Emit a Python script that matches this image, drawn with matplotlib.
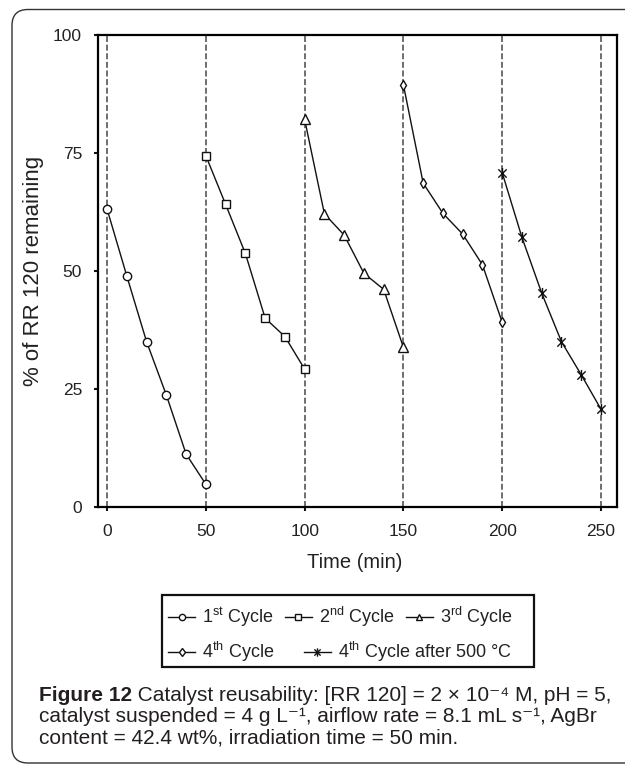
import matplotlib
matplotlib.use("Agg")
import matplotlib.pyplot as plt
from matplotlib.lines import Line2D
from matplotlib.path import Path
from matplotlib.patches import FancyBboxPatch, Rectangle

plt.rcParams['mathtext.fontset'] = 'custom'
plt.rcParams['mathtext.rm'] = 'Liberation Sans'
plt.rcParams['lines.scale_dashes'] = False

sans = ['Liberation Sans', 'DejaVu Sans']

# data
time1 = [0, 10, 20, 30, 40, 50]
time2 = [50, 60, 70, 80, 90, 100]
time3 = [100, 110, 120, 130, 140, 150]
time4 = [150, 160, 170, 180, 190, 200]
time5 = [200, 210, 220, 230, 240, 250]
cycle1 = [63.1, 48.9, 35.0, 23.7, 11.2, 4.8]
cycle2 = [74.4, 64.1, 53.7, 40.0, 36.1, 29.2]
cycle3 = [82.1, 62.1, 57.6, 49.5, 46.1, 33.8]
cycle4 = [89.4, 68.6, 62.2, 57.8, 51.3, 39.1]
cycle5 = [70.8, 57.1, 45.3, 35.0, 28.0, 20.7]
cycle_ends = [0, 50, 100, 150, 200, 250]
xticks = [0, 50, 100, 150, 200, 250]
yticks = [0, 25, 50, 75, 100]
labels = ['1$^{\\mathrm{st}}$ Cycle', '2$^{\\mathrm{nd}}$ Cycle', '3$^{\\mathrm{rd}}$ Cycle',
          '4$^{\\mathrm{th}}$ Cycle', '4$^{\\mathrm{th}}$ Cycle after 500 \u00b0C']
caption = [' Catalyst reusability: [RR 120] = 2 \u00d7 10\u207b\u2074 M, pH = 5,',
           'catalyst suspended = 4 g L\u207b\u00b9, airflow rate = 8.1 mL s\u207b\u00b9, AgBr',
           'content = 42.4 wt%, irradiation time = 50 min.']

# asterisk marker: vertical bar plus an X
star = Path([(0, -1), (0, 1), (-0.75, -0.75), (0.75, 0.75), (-0.75, 0.75), (0.75, -0.75)],
            [Path.MOVETO, Path.LINETO, Path.MOVETO, Path.LINETO, Path.MOVETO, Path.LINETO])

fig = plt.figure(figsize=(6.25, 7.65), dpi=100)

box = FancyBboxPatch((0.12, 0.02), 7.5, 7.535, boxstyle='round,pad=0,rounding_size=0.16',
                     transform=fig.dpi_scale_trans, fill=False, edgecolor='#333333', lw=1.0)
fig.patches.append(box)

ax = fig.add_axes([0.1568, 0.3373, 0.8304, 0.617])

for x in cycle_ends:
    ax.axvline(x, color='#555555', lw=1.2, linestyle=(0, (4.3, 1.9)), zorder=1)

styles = [('o', 6), ('s', 6), ('^', 6.5), ('d', 5.5), (star, 8)]
series = [(time1, cycle1), (time2, cycle2), (time3, cycle3), (time4, cycle4), (time5, cycle5)]
for (t, v), (m, ms) in zip(series, styles):
    ax.plot(t, v, color='#111111', lw=1.0, marker=m, ms=ms, mfc='white', mec='#111111', mew=1.0, zorder=3)

ax.set_xlim(-4.6, 258.1)
ax.set_ylim(0, 100)
ax.set_xticks(xticks)
ax.set_yticks(yticks)
for s in ax.spines.values():
    s.set_linewidth(1.6)
ax.tick_params(direction='out', length=3, width=1.5, pad=8.5, labelsize=12.5, colors='#111111')
ax.tick_params(axis='x', pad=9.5)
for lab in ax.get_xticklabels() + ax.get_yticklabels():
    lab.set_family(sans)
    lab.set_color('#222222')

ax.set_xlabel('Time (min)', family=sans, fontsize=14.5, color='#222222', va='top')
ax.xaxis.set_label_coords(0.495, -0.098)
ax.set_ylabel('% of RR 120 remaining', family=sans, fontsize=16, color='#222222')
ax.yaxis.set_label_coords(-0.105, 0.5)

# legend: two rows drawn as two frameless legends inside one frame
handles = [Line2D([], [], color='#111111', lw=1.0, marker=m, ms=4.5 if m is not star else 6,
                  mfc='white', mec='#111111', mew=1.0) for m, ms in styles]
fig.patches.append(Rectangle((0.2592, 0.1281), 0.5952, 0.0941, transform=fig.transFigure,
                             fill=False, edgecolor='#111111', lw=1.6))
leg1 = fig.legend(handles[:3], labels[:3], ncol=3, loc='center left', bbox_to_anchor=(0.2688, 0.1935),
                  frameon=False, borderpad=0, borderaxespad=0, handlelength=1.5, handletextpad=0.4,
                  columnspacing=0.6, prop={'family': sans, 'size': 13})
leg2 = fig.legend(handles[3:], labels[3:], ncol=2, loc='center left', bbox_to_anchor=(0.2688, 0.1477),
                  frameon=False, borderpad=0, borderaxespad=0, handlelength=1.5, handletextpad=0.4,
                  columnspacing=1.6, prop={'family': sans, 'size': 13})
for lg in (leg1, leg2):
    for t in lg.get_texts():
        t.set_color('#222222')

# caption
cap_color = '#231f20'
cap_size = 15
renderer = fig.canvas.get_renderer()
head = fig.text(39 / 625, 1 - 701 / 765, 'Figure 12', family=sans, weight='bold',
                fontsize=cap_size, color=cap_color, va='baseline')
ext = head.get_window_extent(renderer)
fig.text(ext.x1 / fig.bbox.width, 1 - 701 / 765, caption[0],
         family=sans, fontsize=cap_size, color=cap_color, va='baseline')
fig.text(39 / 625, 1 - 722.5 / 765, caption[1],
         family=sans, fontsize=cap_size, color=cap_color, va='baseline')
fig.text(39 / 625, 1 - 744 / 765, caption[2],
         family=sans, fontsize=cap_size, color=cap_color, va='baseline')

fig.savefig('out.png', dpi=100)
